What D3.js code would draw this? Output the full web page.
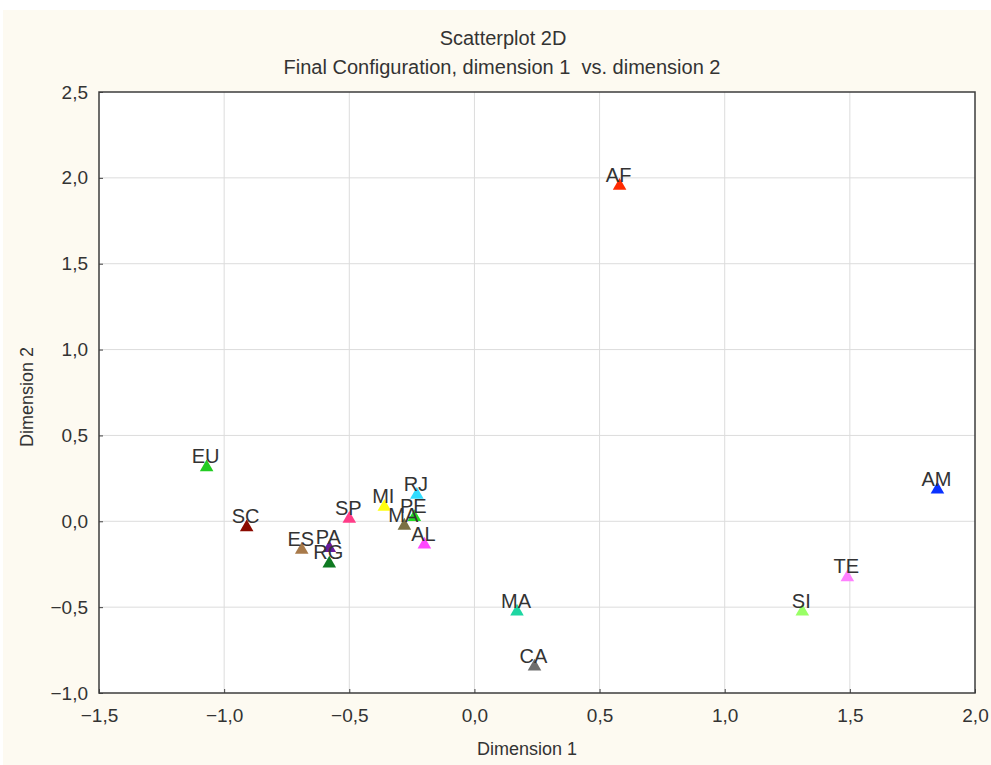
<!DOCTYPE html>
<html>
<head>
<meta charset="utf-8">
<script src="https://cdn.jsdelivr.net/npm/d3@7"></script>
<style>
  body { margin: 0; background: #ffffff; }
  svg text { font-family: "Liberation Sans", Arial, sans-serif; }
</style>
</head>
<body>
<div id="chart"></div>
<script>
// point labels and coordinates
var labels = ["AF", "AM", "TE", "SI", "MA", "CA", "EU", "SC", "ES", "PA", "RG", "SP", "MI", "RJ", "PE", "MA", "AL"];
var dim1 = [0.58, 1.85, 1.49, 1.31, 0.17, 0.24, -1.07, -0.91, -0.69, -0.58, -0.58, -0.50, -0.36, -0.23, -0.24, -0.28, -0.20];
var dim2 = [1.96, 0.19, -0.32, -0.52, -0.52, -0.84, 0.32, -0.03, -0.16, -0.15, -0.24, 0.02, 0.09, 0.16, 0.03, -0.02, -0.13];

var xTicks = [-1.5, -1.0, -0.5, 0.0, 0.5, 1.0, 1.5, 2.0];
var yTicks = [-1.0, -0.5, 0.0, 0.5, 1.0, 1.5, 2.0, 2.5];

var title1 = "Scatterplot 2D";
var title2 = "Final Configuration, dimension 1  vs. dimension 2";
var xTitle = "Dimension 1";
var yTitle = "Dimension 2";

var pointColors = ["#ff2a00", "#0a32ff", "#ff80ff", "#99ff66", "#1ed6a2", "#6e6e6e", "#22cc22", "#8b0a00",
                   "#a87a4a", "#6a1a9a", "#0f7a22", "#ff3d88", "#ffff10", "#30dcff", "#22dd22", "#7a7044", "#ff48ff"];

var W = 991, H = 765;
var margin = {left: 99, right: 16, top: 92, bottom: 72};

var svg = d3.select("#chart").append("svg")
    .attr("width", W)
    .attr("height", H);

// cream background
svg.append("rect")
    .attr("x", 3).attr("y", 10)
    .attr("width", W - 3).attr("height", H - 10)
    .attr("fill", "#fdfaf1");

var x = d3.scaleLinear().domain([-1.5, 2.0]).range([margin.left, W - margin.right]);
var y = d3.scaleLinear().domain([-1.0, 2.5]).range([H - margin.bottom, margin.top]);

// plot area
svg.append("rect")
    .attr("x", x(-1.5)).attr("y", y(2.5))
    .attr("width", x(2.0) - x(-1.5)).attr("height", y(-1.0) - y(2.5))
    .attr("fill", "#ffffff");

var fmt = function(d) { return d3.format(".1f")(d).replace(".", ","); };

// gridlines
svg.append("g").selectAll("line")
    .data(xTicks.slice(1, -1))
    .enter().append("line")
    .attr("x1", function(d) { return x(d); }).attr("x2", function(d) { return x(d); })
    .attr("y1", y(2.5)).attr("y2", y(-1.0))
    .attr("stroke", "#dcdcdc").attr("stroke-width", 1);
svg.append("g").selectAll("line")
    .data(yTicks.slice(1, -1))
    .enter().append("line")
    .attr("y1", function(d) { return y(d); }).attr("y2", function(d) { return y(d); })
    .attr("x1", x(-1.5)).attr("x2", x(2.0))
    .attr("stroke", "#dcdcdc").attr("stroke-width", 1);

// axes
var xAxis = svg.append("g")
    .attr("transform", "translate(0," + y(-1.0) + ")")
    .call(d3.axisBottom(x).tickValues(xTicks).tickFormat(fmt).tickSizeInner(-4).tickSizeOuter(0).tickPadding(16));
var yAxis = svg.append("g")
    .attr("transform", "translate(" + x(-1.5) + ",0)")
    .call(d3.axisLeft(y).tickValues(yTicks).tickFormat(fmt).tickSizeInner(-4).tickSizeOuter(0).tickPadding(11));

[xAxis, yAxis].forEach(function(a) {
    a.select(".domain").remove();
    a.selectAll(".tick line").attr("stroke", "#444");
    a.selectAll(".tick text").attr("fill", "#333").style("font-size", "19px");
});

// frame
svg.append("rect")
    .attr("x", x(-1.5)).attr("y", y(2.5))
    .attr("width", x(2.0) - x(-1.5)).attr("height", y(-1.0) - y(2.5))
    .attr("fill", "none").attr("stroke", "#3c3c3c").attr("stroke-width", 1.5);

// titles
svg.append("text").attr("x", 503).attr("y", 45).attr("text-anchor", "middle")
    .attr("fill", "#333").style("font-size", "20px").style("white-space", "pre").text(title1);
svg.append("text").attr("x", 502).attr("y", 74).attr("text-anchor", "middle")
    .attr("fill", "#333").style("font-size", "20px").style("white-space", "pre").text(title2);
svg.append("text").attr("x", 527).attr("y", 755).attr("text-anchor", "middle")
    .attr("fill", "#333").style("font-size", "18px").text(xTitle);
svg.append("text").attr("transform", "translate(33,397) rotate(-90)").attr("text-anchor", "middle")
    .attr("fill", "#333").style("font-size", "18px").text(yTitle);

// points
var pts = labels.map(function(l, i) { return {label: l, x: dim1[i], y: dim2[i], c: pointColors[i]}; });
var tri = d3.symbol().type(d3.symbolTriangle).size(80);

var g = svg.append("g");
g.selectAll("path")
    .data(pts)
    .enter().append("path")
    .attr("d", tri)
    .attr("transform", function(d) { return "translate(" + x(d.x) + "," + (y(d.y) + 1) + ")"; })
    .attr("fill", function(d) { return d.c; });

g.selectAll("text")
    .data(pts)
    .enter().append("text")
    .attr("x", function(d) { return x(d.x) - 1; })
    .attr("y", function(d) { return y(d.y) - 3; })
    .attr("text-anchor", "middle")
    .attr("fill", "#333")
    .style("font-size", "20px")
    .text(function(d) { return d.label; });
</script>
</body>
</html>
